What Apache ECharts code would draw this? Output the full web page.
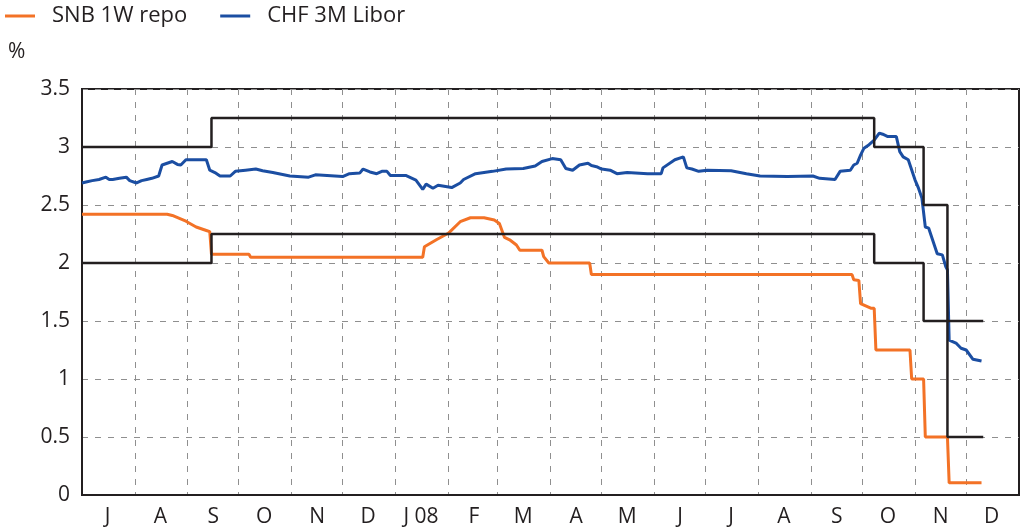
<!DOCTYPE html>
<html>
<head>
<meta charset="utf-8">
<script src="https://cdn.jsdelivr.net/npm/echarts@6/dist/echarts.min.js"></script>
<style>
  html, body { margin: 0; padding: 0; background: #fff; }
  #chart { width: 1022px; height: 532px; }
</style>
</head>
<body>
<div id="chart"></div>
<script>
// SNB 1W repo rate
var repoDates = ['2007-07-01','2007-08-20','2007-08-23','2007-08-31','2007-09-06','2007-09-12','2007-09-14','2007-09-15',
  '2007-10-07','2007-10-08','2008-01-17','2008-01-18','2008-01-25','2008-02-01','2008-02-08','2008-02-14','2008-02-22',
  '2008-02-28','2008-03-02','2008-03-05','2008-03-08','2008-03-12','2008-03-14','2008-03-27','2008-03-28','2008-03-31',
  '2008-04-24','2008-04-25','2008-09-25','2008-09-26','2008-09-29','2008-09-30','2008-10-06','2008-10-08','2008-10-09',
  '2008-10-29','2008-10-30','2008-11-06','2008-11-07','2008-11-20','2008-11-21','2008-12-10'];
var repoValues = [2.42,2.42,2.41,2.36,2.31,2.28,2.27,2.075,
  2.075,2.05,2.05,2.14,2.20,2.256,2.356,2.39,2.39,
  2.37,2.34,2.22,2.20,2.155,2.11,2.11,2.055,2.0,
  2.0,1.9,1.9,1.855,1.85,1.65,1.61,1.61,1.25,
  1.25,1.0,1.0,0.5,0.5,0.105,0.105];

// CHF 3M Libor
var liborDates = ['2007-07-01','2007-07-04','2007-07-07','2007-07-11','2007-07-15','2007-07-17','2007-07-19','2007-07-23',
  '2007-07-27','2007-07-29','2007-08-02','2007-08-05','2007-08-08','2007-08-11','2007-08-15','2007-08-17','2007-08-20',
  '2007-08-23','2007-08-26','2007-08-28','2007-08-31','2007-09-12','2007-09-14','2007-09-17','2007-09-20','2007-09-26',
  '2007-09-29','2007-10-05','2007-10-11','2007-10-15','2007-10-21','2007-10-31','2007-11-11','2007-11-15','2007-12-01',
  '2007-12-05','2007-12-11','2007-12-13','2007-12-17','2007-12-21','2007-12-24','2007-12-27','2007-12-29','2008-01-07',
  '2008-01-13','2008-01-17','2008-01-19','2008-01-23','2008-01-26','2008-02-03','2008-02-08','2008-02-10','2008-02-17',
  '2008-02-27','2008-03-06','2008-03-16','2008-03-23','2008-03-27','2008-04-02','2008-04-07','2008-04-10','2008-04-14',
  '2008-04-18','2008-04-23','2008-04-25','2008-04-28','2008-05-01','2008-05-06','2008-05-10','2008-05-16','2008-05-28',
  '2008-06-05','2008-06-06','2008-06-13','2008-06-18','2008-06-20','2008-06-23','2008-06-27','2008-07-02','2008-07-16',
  '2008-07-25','2008-08-02','2008-08-18','2008-09-02','2008-09-06','2008-09-15','2008-09-18','2008-09-24','2008-09-26',
  '2008-09-28','2008-09-30','2008-10-02','2008-10-05','2008-10-08','2008-10-11','2008-10-13','2008-10-16','2008-10-21',
  '2008-10-23','2008-10-25','2008-10-28','2008-11-01','2008-11-03','2008-11-05','2008-11-07','2008-11-09','2008-11-14',
  '2008-11-17','2008-11-19','2008-11-20','2008-11-21','2008-11-25','2008-11-28','2008-12-01','2008-12-05','2008-12-10'];
var liborValues = [2.69,2.70,2.71,2.72,2.74,2.72,2.72,2.73,
  2.74,2.71,2.69,2.71,2.72,2.73,2.75,2.845,2.86,
  2.875,2.85,2.845,2.89,2.89,2.80,2.78,2.75,2.75,
  2.79,2.80,2.81,2.795,2.78,2.75,2.74,2.76,2.745,
  2.77,2.775,2.81,2.785,2.77,2.79,2.79,2.755,2.755,
  2.715,2.635,2.68,2.645,2.67,2.65,2.69,2.72,2.77,
  2.79,2.81,2.815,2.836,2.875,2.90,2.89,2.815,2.80,
  2.845,2.86,2.84,2.83,2.81,2.80,2.77,2.78,2.77,
  2.77,2.82,2.89,2.915,2.82,2.81,2.79,2.80,2.795,
  2.77,2.75,2.745,2.75,2.73,2.72,2.79,2.80,2.845,
  2.86,2.93,2.99,3.02,3.06,3.12,3.11,3.09,3.09,
  2.96,2.915,2.89,2.715,2.645,2.56,2.31,2.30,2.08,
  2.07,1.97,1.94,1.336,1.31,1.265,1.25,1.17,1.155];

// SNB 3M Libor target range
var bandDates = ['2007-07-01','2007-09-15','2008-10-08','2008-11-06','2008-11-20','2008-12-11'];
var bandUpper = [3.0,3.25,3.0,2.5,1.5,1.5];
var bandLower = [2.0,2.25,2.0,1.5,0.5,0.5];

var monthLetters = ['J','F','M','A','M','J','J','A','S','O','N','D'];
var startDate = '2007-07-01';
var dayCount = 550;

var t0 = Date.parse(startDate);
function dayIndex(s) {
  return Math.round((Date.parse(s) - t0) / 864e5);
}
function pairs(dates, vals) {
  return dates.map(function (d, i) { return [dayIndex(d), vals[i]]; });
}

var days = [];
for (var i = 0; i <= dayCount; i++) {
  days.push(new Date(t0 + i * 864e5).toISOString().slice(0, 10));
}

var gridLine = { color: '#8f8f8f', width: 1, type: [6, 7] };
var ink = '#231f20';
var fontName = '"Open Sans", "DejaVu Sans", sans-serif';

var chart = echarts.init(document.getElementById('chart'));
chart.setOption({
  animation: false,
  title: {
    text: '%', left: 3, top: 37,
    textStyle: { fontSize: 21, fontWeight: 'normal', color: ink, fontFamily: fontName }
  },
  legend: {
    data: ['SNB 1W repo', 'CHF 3M Libor'],
    left: 0, top: 0,
    icon: 'rect', itemWidth: 30, itemHeight: 3, itemGap: 33,
    textStyle: { fontSize: 22, color: ink, fontFamily: fontName, padding: [0, 0, 0, 12] }
  },
  grid: {
    left: 82, right: 3, top: 89, bottom: 37,
    show: true, borderColor: ink, borderWidth: 2
  },
  xAxis: {
    type: 'category',
    data: days,
    boundaryGap: false,
    axisLine: { lineStyle: { color: ink, width: 2 } },
    axisTick: { show: false },
    axisLabel: {
      interval: function (idx, val) { return val.slice(8) === '16'; },
      formatter: function (val) {
        var m = +val.slice(5, 7) - 1;
        var s = monthLetters[m];
        if (m === 0 && val.slice(0, 4) === '2008') s = 'J 08';
        return s;
      },
      fontSize: 21, color: ink, fontFamily: fontName, margin: 12
    },
    splitLine: {
      show: true,
      interval: function (idx, val) { return idx > 0 && idx < dayCount && val.slice(8) === '01'; },
      lineStyle: gridLine
    }
  },
  yAxis: {
    type: 'value',
    min: 0, max: 3.5, interval: 0.5,
    axisLine: { show: true, lineStyle: { color: ink, width: 2 } },
    axisTick: { show: false },
    axisLabel: { fontSize: 21, color: ink, fontFamily: fontName, margin: 12 },
    splitLine: { show: true, lineStyle: gridLine }
  },
  series: [
    {
      name: 'SNB 1W repo', type: 'line', symbol: 'none',
      data: pairs(repoDates, repoValues),
      lineStyle: { color: '#f37226', width: 3 }, itemStyle: { color: '#f37226' }
    },
    {
      name: 'CHF 3M Libor', type: 'line', symbol: 'none',
      data: pairs(liborDates, liborValues),
      lineStyle: { color: '#1b4ea2', width: 3 }, itemStyle: { color: '#1b4ea2' }
    },
    {
      name: 'upper', type: 'line', symbol: 'none', step: 'end',
      data: pairs(bandDates, bandUpper),
      lineStyle: { color: ink, width: 2.5 }
    },
    {
      name: 'lower', type: 'line', symbol: 'none', step: 'end',
      data: pairs(bandDates, bandLower),
      lineStyle: { color: ink, width: 2.5 }
    }
  ]
});
</script>
</body>
</html>
